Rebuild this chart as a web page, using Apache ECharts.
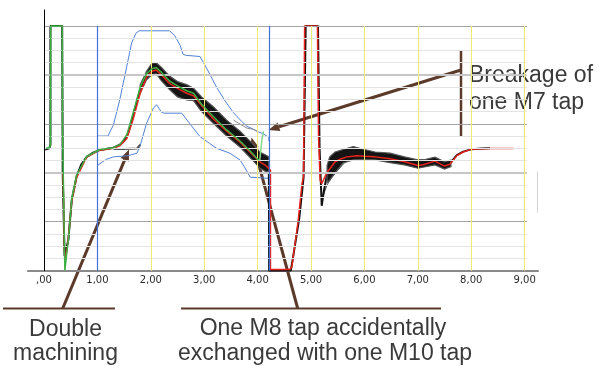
<!DOCTYPE html>
<html>
<head>
<meta charset="utf-8">
<script src="https://cdn.jsdelivr.net/npm/echarts@6/dist/echarts.min.js"></script>
<style>
html,body{margin:0;padding:0;background:#fff;}
#chart{width:604px;height:369px;}
</style>
</head>
<body>
<div id="chart"></div>
<script>
// ---------- data ----------
const xTicks = [0, 1, 2, 3, 4, 5, 6, 7, 8, 9];
const tickLabels = [',00', '1,00', '2,00', '3,00', '4,00', '5,00', '6,00', '7,00', '8,00', '9,00'];
const yellowLines = [0, 2, 3, 4, 5, 6, 7, 8, 9];
const blueLines = [1, 4.21];

const blackTrace = [[0.02,9.9],[0.1,10.0],[0.12,10.3],[0.12,20],[0.34,20],[0.35,8],[0.385,1.2],[0.41,1.3],[0.455,2.5],[0.52,5.8],[0.61,7.7],[0.7,8.7],[0.8,9.3],[0.92,9.65],[1.05,9.87],[1.3,10.05],[1.42,10.3],[1.5,10.6],[1.58,11.3],[1.67,12.7],[1.8,14.8],[1.92,16.0],[2.02,16.5],[2.08,16.6],[2.15,16.4],[2.23,15.9],[2.42,15.05],[2.58,14.8],[2.77,14.6],[2.92,13.7],[3.17,12.6],[3.42,11.6],[3.67,10.7],[3.92,9.7],[4.11,8.9],[4.21,8.6],[4.215,0],[4.62,0],[4.66,1],[4.78,4.3],[4.86,7.6],[4.9,20],[5.13,20],[5.16,10],[5.2,5.3],[5.24,6.5],[5.3,7.9],[5.36,8.6],[5.45,9.1],[5.54,9.4],[5.67,9.6],[5.79,9.7],[5.98,9.55],[6.23,9.4],[6.48,9.25],[6.73,9.0],[6.98,8.75],[7.1,8.7],[7.22,8.85],[7.32,9.0],[7.42,8.75],[7.51,8.6],[7.6,8.75],[7.73,9.45],[7.85,9.73],[8.01,9.93],[8.2,9.98],[8.35,10.0]];

const redTrace = [[0.355,8],[0.38,2],[0.4,0.8],[0.45,2.4],[0.52,5.7],[0.61,7.6],[0.8,9.3],[1.05,9.85],[1.3,10.0],[1.42,10.2],[1.55,10.8],[1.67,12.4],[1.8,14.5],[1.92,15.8],[2.02,16.3],[2.1,16.4],[2.2,16.0],[2.35,15.3],[2.5,14.9],[2.67,14.5],[2.8,14.3],[2.95,13.5],[3.17,12.4],[3.42,11.4],[3.67,10.5],[3.9,9.5],[4.04,8.9],[4.15,8.6],[4.2,8.4],[4.24,8.2],[4.24,0.1],[4.6,0.1],[4.64,0.3],[4.76,4.1],[4.83,7.1],[4.86,7.7],[4.88,20],[5.12,20],[5.14,11],[5.17,7.4],[5.2,7.1],[5.29,7.96],[5.45,8.9],[5.54,9.1],[5.67,9.3],[5.85,9.4],[6.0,9.35],[6.2,9.3],[6.48,9.15],[6.75,8.9],[7.0,8.6],[7.1,8.65],[7.32,8.95],[7.5,8.55],[7.6,8.7],[7.73,9.4],[7.85,9.7],[8.01,9.93],[8.35,9.98],[8.79,9.98]];

const greenTrace = [[0.04,10.0],[0.1,10.05],[0.12,10.3],[0.125,20],[0.34,20],[0.345,12],[0.39,0],[0.42,1.2],[0.46,2.7],[0.52,5.9],[0.61,7.8],[0.8,9.35],[1.05,9.9],[1.3,10.05],[1.42,10.3],[1.55,11.1],[1.67,12.9],[1.8,15.0],[1.92,16.1],[2.02,16.5],[2.1,16.6],[2.2,16.2],[2.35,15.5],[2.5,15.1],[2.67,14.7],[2.8,14.5],[2.95,13.6],[3.17,12.6],[3.42,11.5],[3.67,10.6],[3.9,9.6],[4.0,9.1],[4.04,9.05]];
const greenSpike = [[4.04,9.05],[4.08,10.7],[4.11,11.4]];

const upperLimit = [[1.0,11.0],[1.2,11.0],[1.24,11.4],[1.3,11.9],[1.42,14.0],[1.55,16.7],[1.64,18.6],[1.72,19.4],[1.78,19.6],[2.35,19.6],[2.45,19.2],[2.55,18.4],[2.6,17.7],[2.65,17.6],[2.92,17.5],[3.05,16.5],[3.23,15.0],[3.4,13.8],[3.55,12.9],[3.7,12.2],[3.8,11.8],[3.9,11.6],[3.98,11.4],[4.1,11.2],[4.21,10.9],[4.21,10.6]];
const lowerLimit = [[1.0,8.6],[1.1,8.9],[1.17,9.1],[1.3,9.3],[1.55,9.38],[1.74,9.6],[1.8,10.2],[1.92,12.05],[2.05,13.3],[2.11,13.55],[2.2,12.95],[2.25,12.87],[2.58,12.87],[2.75,11.9],[2.92,10.96],[3.1,10.4],[3.23,10.0],[3.48,9.6],[3.67,9.05],[3.75,8.5],[3.86,7.64],[4.21,7.55]];

const doubleMachining = [[1.3,9.95],[1.5,9.95],[1.74,9.98],[1.8,10.3]];
const outlierTrace = [[3.55,12.3],[3.7,11.9],[3.8,11.65],[3.92,11.55],[4.0,11.4]];
const spreadTrace = [[5.2,5.8],[5.3,7.0],[5.4,7.7],[5.5,8.2],[5.6,8.7],[5.7,9.1]];

const bandX1 = [1.8, 1.92, 2.02, 2.1, 2.2, 2.35, 2.5, 2.67, 2.8, 2.95, 3.17, 3.42, 3.67, 3.9, 4.04, 4.15, 4.21];
const bandUp1 = [15.2, 16.3, 16.95, 17.0, 16.6, 15.9, 15.45, 15.2, 14.9, 14.2, 13.4, 12.3, 11.4, 10.4, 9.7, 9.45, 9.3];
const bandLo1 = [14.5, 15.6, 16.0, 16.1, 15.5, 14.8, 14.2, 13.95, 13.9, 13.0, 12.05, 11.0, 10.1, 9.05, 8.4, 8.1, 8.1];

const bandX2 = [5.3, 5.35, 5.45, 5.6, 5.79, 6.0, 6.2, 6.48, 6.75, 7.0, 7.15, 7.32, 7.5, 7.62];
const bandUp2 = [8.6, 9.3, 9.7, 9.9, 10.14, 9.9, 9.7, 9.6, 9.3, 9.05, 9.1, 9.27, 8.9, 9.05];
const bandLo2 = [7.2, 7.4, 8.0, 8.8, 9.05, 9.1, 9.05, 8.83, 8.64, 8.37, 8.5, 8.64, 8.3, 8.5];

const gridLevels = [1,2,3,4,5,6,7,8,9,10,11,12,13,14,15,16,17,18,19,20];

// ---------- chart ----------
const chart = echarts.init(document.getElementById('chart'), null, {renderer: 'canvas'});

function hLines(levels) {
  return levels.map(y => [{coord: [0, y]}, {coord: [9.04, y]}]);
}
function vLines(xs) {
  return xs.map(x => [{coord: [x, 0]}, {coord: [x, 20]}]);
}
function markSeries(data, style) {
  return {
    type: 'line', data: [], silent: true, z: 1,
    markLine: {silent: true, symbol: 'none', animation: false, label: {show: false},
      lineStyle: Object.assign({type: 'solid'}, style), emphasis: {disabled: true}, data: data}
  };
}
function lineSeries(data, color, width, z) {
  return {type: 'line', data: data, showSymbol: false, symbol: 'none', silent: true,
    lineStyle: {color: color, width: width}, z: z || 2, animation: false};
}
function bandSeries(xs, up, lo) {
  return {
    type: 'custom', silent: true, z: 3, animation: false,
    data: [[xs[0], up[0]]],
    renderItem: function (params, api) {
      const pts = [];
      for (let i = 0; i < xs.length; i++) pts.push(api.coord([xs[i], up[i]]));
      for (let i = xs.length - 1; i >= 0; i--) pts.push(api.coord([xs[i], lo[i]]));
      return {type: 'polygon', shape: {points: pts},
        style: {fill: '#141414', stroke: '#555', lineWidth: 1.2}};
    }
  };
}

const minorLv = gridLevels.filter(v => v % 4 !== 0);

const brown = '#5b3a29';
function arrow(tail, tip) {
  const dx = tip[0] - tail[0], dy = tip[1] - tail[1];
  const L = Math.sqrt(dx * dx + dy * dy), ux = dx / L, uy = dy / L;
  const hl = 11, hw = 4.5;
  const bx = tip[0] - ux * hl, by = tip[1] - uy * hl;
  return [
    {type: 'line', shape: {x1: tail[0], y1: tail[1], x2: bx, y2: by}, style: {stroke: brown, lineWidth: 3}},
    {type: 'polygon', shape: {points: [tip, [bx - uy * hw, by + ux * hw], [bx + uy * hw, by - ux * hw]]}, style: {fill: brown}}
  ];
}
const textFont = '23px "Liberation Sans", Arial, sans-serif';
function label(text, x, y, align) {
  return {type: 'text', style: {text: text, x: x, y: y, font: textFont, fill: '#3a3a3a', align: align, verticalAlign: 'middle'}};
}

const graphics = [
  {type: 'line', shape: {x1: 3, y1: 308.5, x2: 115, y2: 308.5}, style: {stroke: brown, lineWidth: 2}},
  {type: 'line', shape: {x1: 181, y1: 308.5, x2: 441, y2: 308.5}, style: {stroke: brown, lineWidth: 2}},
  {type: 'line', shape: {x1: 461, y1: 50, x2: 461, y2: 137}, style: {stroke: brown, lineWidth: 2.5}}
].concat(arrow([62.7, 308.5], [129, 149.5]))
 .concat(arrow([297.7, 308.5], [251.5, 137.5]))
 .concat(arrow([461, 70], [268.5, 130]))
 .concat([
  label('Double', 65.5, 329.5, 'center'),
  label('machining', 65.5, 353.5, 'center'),
  label('One M8 tap accidentally', 323, 328.5, 'center'),
  label('exchanged with one M10 tap', 325, 353.5, 'center'),
  label('Breakage of', 469, 76, 'left'),
  label('one M7 tap', 469, 102.5, 'left')
]);

const option = {
  backgroundColor: '#ffffff',
  animation: false,
  grid: {left: 28, right: 66, top: 10, bottom: 98.3, containLabel: false},
  xAxis: {
    type: 'value', min: -0.3, max: 9.25,
    splitLine: {show: false}, axisTick: {show: false},
    axisLine: {onZero: false, lineStyle: {color: '#8a8a8a', width: 2}},
    axisLabel: {customValues: xTicks, formatter: function (v) { const i = xTicks.indexOf(Math.round(v)); return i >= 0 ? tickLabels[i] : ''; },
      fontFamily: 'DejaVu Sans', fontSize: 10, color: '#2a2a2a', margin: 5}
  },
  yAxis: {
    type: 'value', min: 0, max: 21.3, z: 5,
    splitLine: {show: false}, axisTick: {show: false}, axisLabel: {show: false},
    axisLine: {show: true, onZero: true, lineStyle: {color: '#000', width: 1}}
  },
  graphic: {elements: graphics},
  series: [
    markSeries(hLines(minorLv), {color: '#e3e3e3', width: 1}),
    markSeries(hLines([8, 16]), {color: '#c6c6c6', width: 2}),
    markSeries(hLines([4, 12, 20]), {color: '#a3a3a3', width: 1}),
    markSeries(vLines(yellowLines), {color: '#f0eb6e', width: 1}),
    markSeries(vLines(blueLines), {color: '#3f72da', width: 1.2}),
    markSeries([[{coord: [9.23, 4.74]}, {coord: [9.23, 8.1]}]], {color: '#d2d2d2', width: 1}),
    lineSeries(upperLimit, '#5282d6', 1),
    lineSeries(lowerLimit, '#5282d6', 1),
    lineSeries(doubleMachining, '#555555', 2),
    lineSeries(outlierTrace, '#8a8a8a', 1),
    lineSeries(spreadTrace, '#555555', 1),
    lineSeries(blackTrace, '#111111', 2),
    bandSeries(bandX1, bandUp1, bandLo1),
    bandSeries(bandX2, bandUp2, bandLo2),
    lineSeries(redTrace, '#e8221c', 1.5, 4),
    lineSeries(greenTrace, '#3cb043', 1.5, 5),
    lineSeries(greenSpike, '#86d886', 1.5, 5)
  ]
};
chart.setOption(option);
</script>
</body>
</html>
